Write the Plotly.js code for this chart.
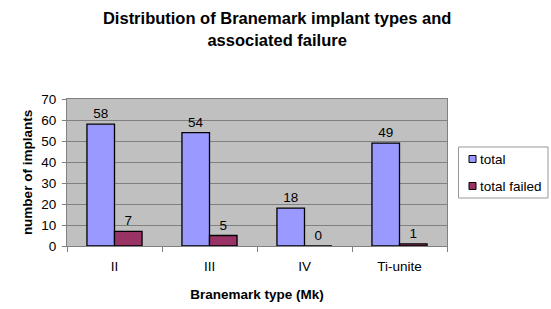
<!DOCTYPE html>
<html><head><meta charset="utf-8">
<script src="https://cdn.plot.ly/plotly-3.0.1.min.js"></script>
<style>html,body{margin:0;padding:0;background:#fff}#c{width:551px;height:309px}</style>
</head><body><div id="c"></div>
<script>
const categories = ["II", "III", "IV", "Ti-unite"];
const totalValues = [58, 54, 18, 49];
const failedValues = [7, 5, 0, 1];
const seriesNames = ["total", "total failed"];
const seriesColors = ["#9999FF", "#993366"];
const yTicks = [0, 10, 20, 30, 40, 50, 60, 70];

const font = "Arial, 'Liberation Sans', sans-serif";
const fs = 13.5;
const series = [totalValues, failedValues];
const traces = series.map((vals, i) => ({
  type:"bar", name:seriesNames[i], x:categories, y:vals, text:vals.map(String),
  textposition:"outside", cliponaxis:false, textfont:{family:font,size:fs,color:"#000"},
  marker:{color:seriesColors[i], line:{color:"#000", width:1.3}}, showlegend:false
}));

// plot area in pixels (for a hand-built Excel-style legend box)
const L = 67, R = 447, T = 99, B = 246;
const px = v => (v - L) / (R - L);
const py = v => (B - v) / (B - T);
const shapes = [{type:"rect", xref:"paper", yref:"paper", x0:px(458.5), x1:px(548), y0:py(198), y1:py(147),
  line:{color:"#999", width:1}, fillcolor:"#fff", layer:"above"}];
const annotations = [];
seriesNames.forEach((n, i) => {
  const cy = 159 + i * 27;
  shapes.push({type:"rect", xref:"paper", yref:"paper", x0:px(469), x1:px(476), y0:py(cy+3.5), y1:py(cy-3.5),
    line:{color:"#000", width:1}, fillcolor:seriesColors[i], layer:"above"});
  annotations.push({text:n, xref:"paper", yref:"paper", x:px(477.5), y:py(cy), xanchor:"left", yanchor:"middle",
    showarrow:false, font:{family:font, size:fs, color:"#000"}});
});

const layout = {
  width:551, height:309,
  margin:{l:L, r:551-R, t:T, b:309-B},
  paper_bgcolor:"#fff", plot_bgcolor:"#C0C0C0",
  font:{family:font, size:fs, color:"#000"},
  title:{text:"<b>Distribution of Branemark implant types and<br>associated failure</b>",
    x:0.503, xref:"container", xanchor:"center", y:0.922, yref:"container", yanchor:"top",
    font:{family:font, size:16.5, color:"#000"}},
  barmode:"group", bargap:0.42, bargroupgap:0,
  showlegend:false,
  shapes:shapes, annotations:annotations,
  xaxis:{type:"category", title:{text:"<b>Branemark type (Mk)</b>", standoff:16, font:{family:font,size:fs}},
    ticks:"outside", tickson:"boundaries", ticklen:5, tickcolor:"#808080",
    showline:true, linecolor:"#808080", linewidth:1, mirror:true, showgrid:false,
    tickfont:{family:font,size:fs}, ticklabelstandoff:8},
  yaxis:{range:[0,70], tickvals:yTicks, ticks:"outside", ticklen:4, tickcolor:"#808080",
    showline:true, linecolor:"#808080", linewidth:1, mirror:true,
    showgrid:true, gridcolor:"#808080", gridwidth:1, zeroline:false, ticklabelstandoff:3,
    title:{text:"<b>number of implants</b>", standoff:5, font:{family:font,size:fs}},
    tickfont:{family:font,size:fs}}
};
Plotly.newPlot("c", traces, layout, {displayModeBar:false, staticPlot:true});
</script></body></html>
